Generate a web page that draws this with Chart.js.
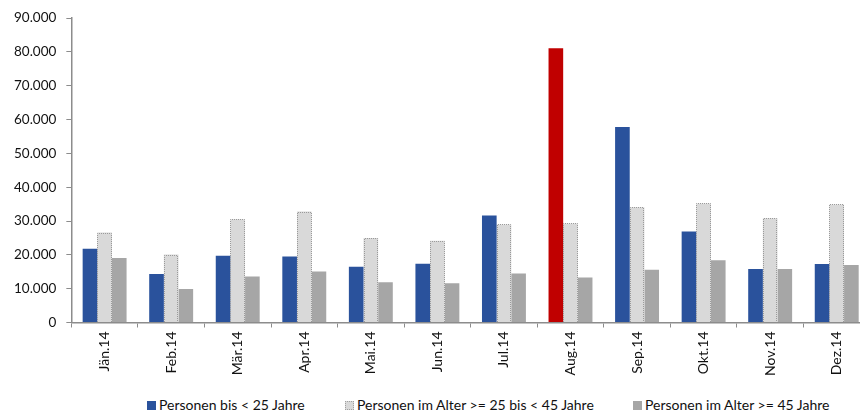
<!DOCTYPE html>
<html>
<head>
<meta charset="utf-8">
<script src="https://cdn.jsdelivr.net/npm/chart.js@4"></script>
<style>
  body { margin: 0; background: #fff; overflow: hidden; font-family: Lato, "Open Sans", sans-serif; }
  #wrap { position: relative; width: 872px; height: 380px; }
  #legend { position: absolute; top: 397px; left: 0; width: 872px; height: 16px; font-size: 14px; color: #111; }
  #legend .item { position: absolute; top: 0; white-space: nowrap; line-height: 16px; }
  #legend .box { display: inline-block; width: 9px; height: 9px; margin-right: 3px; vertical-align: -0px; box-sizing: border-box; }
</style>
</head>
<body>
<div id="wrap"><canvas id="myBarChart"></canvas></div>
<div id="legend"></div>
<script>
const months = ['Jän.14', 'Feb.14', 'Mär.14', 'Apr.14', 'Mai.14', 'Jun.14', 'Jul.14', 'Aug.14', 'Sep.14', 'Okt.14', 'Nov.14', 'Dez.14'];
const under25 = [21800, 14300, 19700, 19500, 16500, 17400, 31600, 81100, 57800, 26900, 15800, 17300];
const age25to45 = [26600, 20100, 30500, 32800, 25000, 24200, 29000, 29300, 34100, 35200, 30800, 34900];
const age45plus = [19100, 9900, 13600, 15100, 11900, 11600, 14500, 13300, 15600, 18400, 15800, 17000];
const seriesNames = ['Personen bis < 25 Jahre', 'Personen im Alter >= 25 bis < 45 Jahre', 'Personen im Alter >= 45 Jahre'];
const highlightMonth = 'Aug.14';

const blue = '#2A529C';
const red = '#C00000';
const light = '#D9D9D9';
const gray = '#A6A6A6';

function fmt(v) {
    return String(v).replace(/\B(?=(\d{3})+(?!\d))/g, '.');
}

// dotted outline for the middle series (bars have no borderDash)
const dottedBorder = {
    id: 'dottedBorder',
    afterDatasetsDraw(chart) {
        const ctx = chart.ctx;
        const meta = chart.getDatasetMeta(1);
        ctx.save();
        ctx.strokeStyle = '#9A9A9A';
        ctx.lineWidth = 1;
        ctx.setLineDash([1, 1]);
        meta.data.forEach(bar => {
            const l = Math.round(bar.x - bar.width / 2) + 0.5;
            const r = Math.round(bar.x + bar.width / 2) - 0.5;
            const t = Math.round(bar.y) + 0.5;
            const b = Math.round(bar.base);
            ctx.beginPath();
            ctx.moveTo(l, b);
            ctx.lineTo(l, t);
            ctx.lineTo(r, t);
            ctx.lineTo(r, b);
            ctx.stroke();
        });
        ctx.restore();
    }
};

Chart.defaults.font.family = 'Lato, "Open Sans", sans-serif';
Chart.defaults.color = '#222';

const chart = new Chart(document.querySelector('#myBarChart'), {
    type: 'bar',
    data: {
        labels: months,
        datasets: [{
            label: seriesNames[0],
            data: under25,
            backgroundColor: months.map(m => m === highlightMonth ? red : blue)
        }, {
            label: seriesNames[1],
            data: age25to45,
            backgroundColor: light
        }, {
            label: seriesNames[2],
            data: age45plus,
            backgroundColor: gray
        }]
    },
    options: {
        responsive: true,
        maintainAspectRatio: false,
        animation: false,
        datasets: {
            bar: { categoryPercentage: 0.66, barPercentage: 1.0 }
        },
        layout: { padding: { top: 10, left: 4, right: 2, bottom: 0 } },
        scales: {
            x: {
                grid: { display: true, drawOnChartArea: false, color: '#8C8C8C', tickLength: 5, offset: true },
                border: { color: '#8C8C8C', width: 1.5 },
                ticks: { minRotation: 90, maxRotation: 90, font: { size: 14 }, color: '#111', padding: 4 }
            },
            y: {
                min: 0,
                max: 90000,
                grid: { display: true, drawOnChartArea: false, color: '#8C8C8C', tickLength: 5 },
                border: { color: '#8C8C8C', width: 1.5 },
                ticks: { stepSize: 10000, font: { size: 13.5 }, color: '#111', padding: 10, callback: v => fmt(v) }
            }
        },
        plugins: {
            legend: { display: false },
            tooltip: { enabled: false }
        }
    },
    plugins: [dottedBorder]
});

// legend below the chart, placed like the original
const legendEl = document.querySelector('#legend');
const legendLeft = [147, 345, 633];
chart.data.datasets.forEach((ds, i) => {
    const item = document.createElement('div');
    item.className = 'item';
    item.style.left = legendLeft[i] + 'px';
    const fill = i === 0 ? blue : (i === 1 ? light : gray);
    const border = i === 1 ? 'border:1px dotted #A0A0A0;' : '';
    item.innerHTML = `<span class="box" style="background:${fill};${border}"></span>${ds.label}`;
    legendEl.appendChild(item);
});
</script>
</body>
</html>
